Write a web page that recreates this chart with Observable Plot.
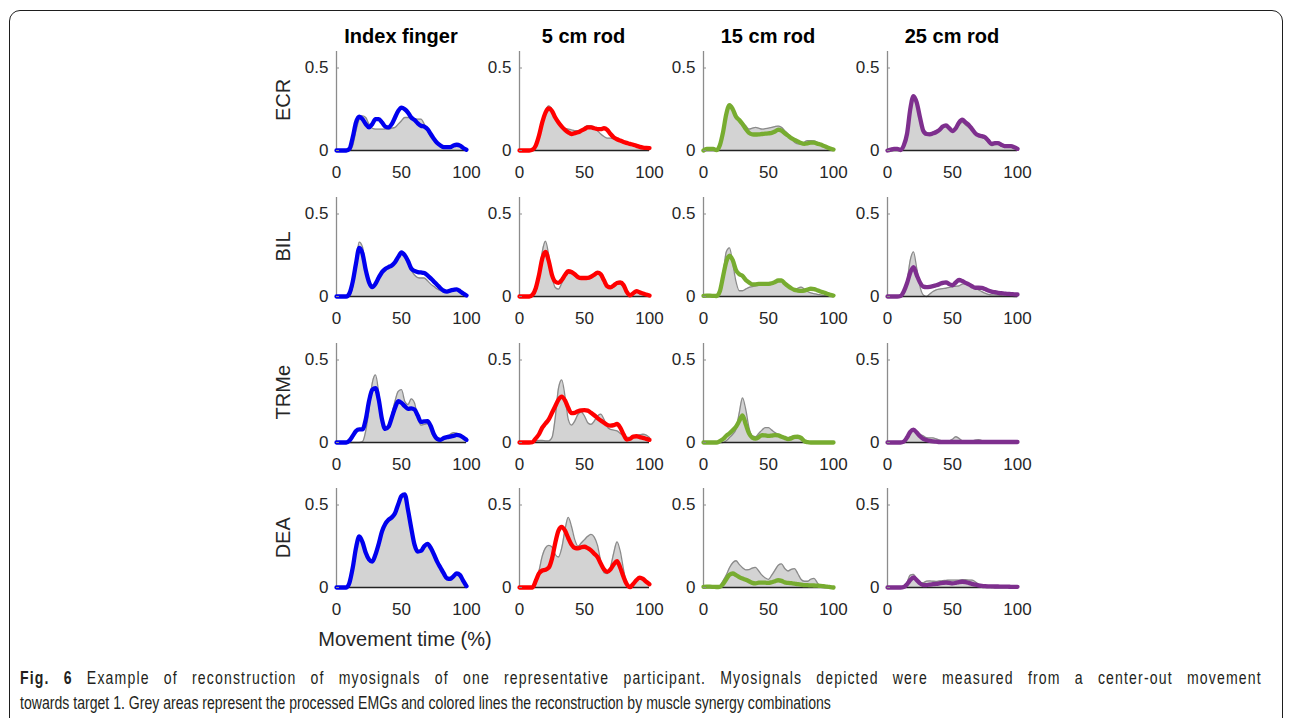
<!DOCTYPE html>
<html>
<head>
<meta charset="utf-8">
<script src="https://cdn.jsdelivr.net/npm/d3@7"></script>
<script src="https://cdn.jsdelivr.net/npm/@observablehq/plot@0.6"></script>
<style>
  html, body { margin: 0; padding: 0; background: #fff; }
  body { width: 1290px; height: 718px; position: relative; overflow: hidden; font-family: "Liberation Sans", Arial, sans-serif; }
  #frame { position: absolute; left: 9px; top: 10px; width: 1274px; height: 760px; border: 1.4px solid #1e1e1e; border-radius: 11px; box-sizing: border-box; }
  #chart { position: absolute; left: 0; top: 0; width: 1290px; height: 718px; }
  #overlay { position: absolute; left: 0; top: 0; }
</style>
</head>
<body>
<div id="frame"></div>
<div id="chart"></div>
<script>
// ---- categories and labels ----
const muscles = ["ECR", "BIL", "TRMe", "DEA"];
const conditions = ["Index finger", "5 cm rod", "15 cm rod", "25 cm rod"];
const lineColors = ["#0000ee", "#ff0000", "#77ac30", "#7e2f8e"];
const xTicks = [0, 50, 100];
const yTicks = [0, 0.5];
const xLabel = "Movement time (%)";
const captionBold = "Fig. 6";
const captionLine1 = " Example of reconstruction of myosignals of one representative participant. Myosignals depicted were measured from a center-out movement";
const captionLine2 = "towards target 1. Grey areas represent the processed EMGs and colored lines the reconstruction by muscle synergy combinations";

// movement time (%) sample points
const time = [0,2.5,5,7.5,10,12.5,15,17.5,20,22.5,25,27.5,30,32.5,35,37.5,40,42.5,45,47.5,50,52.5,55,57.5,60,62.5,65,67.5,70,72.5,75,77.5,80,82.5,85,87.5,90,92.5,95,97.5,100];

// ---- ECR ----
const ECR_index_emg = [0,0,0,0,0,0.03,0.12,0.19,0.21,0.2, 0.16,0.135,0.13,0.13,0.13,0.13,0.13,0.135,0.14,0.16, 0.18,0.2,0.2,0.2,0.19,0.19,0.19,0.16,0.12,0.08, 0.06,0.04,0.03,0.02,0.02,0.02,0.025,0.03,0.03,0.015, 0];
const ECR_index_rec = [0,0,0,0,0.01,0.08,0.17,0.205,0.19,0.16, 0.14,0.16,0.19,0.19,0.17,0.145,0.14,0.16,0.2,0.24, 0.26,0.25,0.23,0.2,0.185,0.165,0.15,0.145,0.13,0.1, 0.07,0.045,0.03,0.02,0.02,0.02,0.03,0.035,0.03,0.015, 0.005];
const ECR_5cm_emg = [0,0,0,0,0,0.02,0.08,0.17,0.24,0.27, 0.25,0.2,0.17,0.15,0.135,0.13,0.125,0.12,0.12,0.125, 0.14,0.15,0.15,0.14,0.12,0.1,0.085,0.075,0.075,0.07, 0.065,0.06,0.05,0.04,0.035,0.03,0.025,0.02,0.015,0.01, 0.005];
const ECR_5cm_rec = [0,0,0,0,0.005,0.03,0.09,0.17,0.23,0.255, 0.24,0.2,0.17,0.145,0.125,0.11,0.1,0.105,0.11,0.12, 0.13,0.14,0.14,0.135,0.13,0.13,0.135,0.125,0.1,0.08, 0.068,0.06,0.052,0.046,0.04,0.035,0.028,0.022,0.018,0.016, 0.015];
const ECR_15cm_emg = [0,0,0,0,0,0.02,0.1,0.21,0.265,0.25, 0.21,0.19,0.17,0.15,0.13,0.135,0.14,0.135,0.13,0.132, 0.135,0.14,0.145,0.148,0.14,0.12,0.1,0.075,0.05,0.04, 0.04,0.05,0.06,0.06,0.058,0.05,0.04,0.03,0.02,0.01, 0.005];
const ECR_15cm_rec = [0,0.01,0.01,0.01,0.002,0.03,0.11,0.22,0.275,0.25, 0.205,0.185,0.16,0.13,0.107,0.098,0.097,0.098,0.1,0.102, 0.104,0.107,0.115,0.127,0.12,0.105,0.09,0.075,0.064,0.055, 0.045,0.04,0.043,0.048,0.048,0.042,0.036,0.028,0.02,0.012, 0.006];
const ECR_25cm_emg = [0,0,0,0,0,0.02,0.09,0.24,0.32,0.29, 0.2,0.13,0.11,0.105,0.11,0.12,0.13,0.145,0.15,0.13, 0.12,0.13,0.155,0.17,0.155,0.14,0.125,0.11,0.09,0.08, 0.07,0.05,0.03,0.035,0.04,0.035,0.03,0.025,0.02,0.015, 0.01];
const ECR_25cm_rec = [0,0.005,0.01,0.01,0.003,0.03,0.1,0.25,0.33,0.29, 0.2,0.12,0.1,0.098,0.104,0.112,0.125,0.145,0.152,0.135, 0.118,0.135,0.17,0.187,0.17,0.155,0.13,0.105,0.092,0.087, 0.08,0.06,0.04,0.045,0.045,0.035,0.027,0.026,0.026,0.02, 0.01];

// ---- BIL ----
const BIL_index_emg = [0,0,0,0,0.005,0.06,0.2,0.33,0.3,0.17, 0.09,0.065,0.08,0.11,0.145,0.168,0.18,0.188,0.2,0.23, 0.26,0.24,0.2,0.16,0.13,0.115,0.112,0.112,0.095,0.075, 0.06,0.045,0.035,0.03,0.032,0.035,0.038,0.04,0.03,0.015, 0];
const BIL_index_rec = [0,0,0,0,0.02,0.09,0.2,0.295,0.26,0.16, 0.087,0.057,0.077,0.115,0.148,0.167,0.178,0.188,0.208,0.24, 0.268,0.25,0.215,0.17,0.155,0.148,0.146,0.142,0.128,0.11, 0.09,0.07,0.05,0.035,0.03,0.036,0.04,0.043,0.032,0.018, 0.006];
const BIL_5cm_emg = [0,0,0,0,0.005,0.03,0.12,0.27,0.335,0.25, 0.12,0.055,0.045,0.08,0.12,0.14,0.138,0.125,0.112,0.11, 0.112,0.118,0.125,0.14,0.15,0.12,0.085,0.055,0.05,0.06, 0.075,0.078,0.055,0.025,0.01,0.02,0.028,0.018,0.01,0.005, 0];
const BIL_5cm_rec = [0,0,0,0,0.01,0.05,0.13,0.23,0.27,0.215, 0.13,0.09,0.082,0.1,0.13,0.153,0.148,0.135,0.118,0.112, 0.112,0.113,0.12,0.132,0.145,0.135,0.098,0.062,0.055,0.067, 0.082,0.085,0.07,0.028,0.007,0.02,0.032,0.025,0.018,0.012, 0.006];
const BIL_15cm_emg = [0,0,0,0,0,0.02,0.12,0.27,0.295,0.2, 0.09,0.035,0.035,0.045,0.055,0.06,0.065,0.068,0.07,0.07, 0.07,0.075,0.085,0.095,0.1,0.08,0.06,0.048,0.042,0.05, 0.057,0.045,0.03,0.022,0.018,0.013,0.01,0.007,0.005,0.002, 0];
const BIL_15cm_rec = [0.004,0.005,0.005,0.004,0.003,0.03,0.12,0.21,0.248,0.22, 0.16,0.135,0.125,0.1,0.085,0.073,0.074,0.076,0.077,0.077, 0.077,0.08,0.088,0.097,0.098,0.08,0.064,0.05,0.04,0.036, 0.034,0.036,0.042,0.047,0.045,0.038,0.03,0.024,0.017,0.01, 0.006];
const BIL_25cm_emg = [0,0,0,0,0,0.02,0.09,0.22,0.27,0.17, 0.06,0.01,0,0.015,0.03,0.04,0.045,0.048,0.05,0.055, 0.06,0.062,0.065,0.075,0.078,0.07,0.058,0.048,0.04,0.03, 0.02,0.013,0.01,0.01,0.008,0.005,0.003,0.002,0.001,0, 0];
const BIL_25cm_rec = [0,0,0,0,0.003,0.03,0.08,0.145,0.178,0.13, 0.085,0.06,0.057,0.059,0.063,0.068,0.075,0.083,0.086,0.075, 0.068,0.085,0.1,0.094,0.083,0.074,0.062,0.053,0.053,0.052, 0.045,0.036,0.03,0.026,0.022,0.02,0.018,0.016,0.015,0.013, 0.012];

// ---- TRMe ----
const TRMe_index_emg = [0,0,0,0,0,0,0,0,0.005,0.07, 0.2,0.36,0.41,0.3,0.14,0.08,0.1,0.17,0.25,0.31, 0.32,0.25,0.23,0.265,0.24,0.15,0.105,0.11,0.115,0.07, 0.03,0.012,0.01,0.02,0.03,0.05,0.06,0.055,0.04,0.025, 0.01];
const TRMe_index_rec = [0,0,0,0,0.012,0.04,0.07,0.08,0.08,0.14, 0.25,0.32,0.33,0.26,0.14,0.082,0.095,0.15,0.21,0.25, 0.24,0.22,0.204,0.207,0.2,0.163,0.125,0.128,0.13,0.1, 0.048,0.022,0.016,0.027,0.033,0.036,0.04,0.046,0.042,0.03, 0.016];
const TRMe_5cm_emg = [0,0,0,0,0,0.01,0.012,0.012,0.01,0.01, 0.03,0.15,0.33,0.38,0.28,0.14,0.105,0.13,0.17,0.185, 0.16,0.12,0.11,0.13,0.16,0.172,0.14,0.095,0.08,0.075, 0.07,0.055,0.04,0.032,0.03,0.035,0.042,0.047,0.05,0.045, 0.03];
const TRMe_5cm_rec = [0,0,0,0,0.002,0.025,0.05,0.09,0.115,0.14, 0.18,0.22,0.26,0.278,0.255,0.21,0.178,0.18,0.19,0.195, 0.196,0.193,0.18,0.165,0.148,0.133,0.12,0.107,0.102,0.105, 0.112,0.09,0.05,0.018,0.022,0.036,0.038,0.033,0.028,0.022, 0.016];
const TRMe_15cm_emg = [0,0,0,0,0,0,0,0.01,0.03,0.05, 0.08,0.18,0.27,0.2,0.09,0.04,0.035,0.055,0.075,0.09, 0.09,0.075,0.06,0.05,0.04,0.033,0.03,0.036,0.04,0.035, 0.025,0.012,0.005,0,0,0,0,0,0,0, 0];
const TRMe_15cm_rec = [0,0,0,0,0,0.008,0.02,0.04,0.055,0.074, 0.095,0.13,0.165,0.11,0.055,0.03,0.024,0.032,0.045,0.043, 0.04,0.042,0.045,0.043,0.035,0.028,0.021,0.025,0.034,0.035, 0.028,0.008,0.002,0,0,0,0,0,0,0, 0];
const TRMe_25cm_emg = [0,0,0,0,0,0,0.03,0.065,0.08,0.065, 0.05,0.04,0.03,0.028,0.028,0.022,0.015,0.01,0.008,0.01, 0.02,0.035,0.025,0.01,0.005,0.005,0.008,0.015,0.018,0.012, 0.005,0,0,0,0,0,0,0,0,0, 0];
const TRMe_25cm_rec = [0,0,0,0,0,0.005,0.03,0.065,0.078,0.06, 0.038,0.022,0.015,0.01,0.007,0.005,0.003,0.003,0.003,0.003, 0.003,0.003,0.003,0.003,0.003,0.003,0.003,0.003,0.003,0.003, 0.003,0.003,0.003,0.003,0.003,0.003,0.003,0.003,0.003,0.003, 0.003];

// ---- DEA ----
const DEA_index_emg = [0,0,0,0,0.025,0.11,0.235,0.31,0.28,0.215, 0.175,0.16,0.2,0.265,0.34,0.385,0.41,0.425,0.45,0.505, 0.555,0.565,0.47,0.36,0.26,0.22,0.225,0.255,0.272,0.245, 0.2,0.155,0.12,0.085,0.055,0.052,0.068,0.085,0.075,0.04, 0.005];
const DEA_index_rec = [0,0,0,0,0.03,0.12,0.24,0.31,0.275,0.21, 0.17,0.157,0.2,0.265,0.34,0.385,0.41,0.425,0.45,0.505, 0.555,0.565,0.47,0.36,0.26,0.218,0.222,0.25,0.265,0.24, 0.2,0.155,0.12,0.085,0.055,0.052,0.068,0.085,0.075,0.04, 0.008];
const DEA_5cm_emg = [0,0,0,0,0,0.02,0.1,0.19,0.24,0.255, 0.245,0.2,0.185,0.24,0.35,0.425,0.37,0.29,0.25,0.27, 0.29,0.31,0.322,0.305,0.255,0.16,0.09,0.085,0.125,0.21, 0.277,0.22,0.11,0.025,0.003,0.015,0.04,0.055,0.047,0.033, 0.02];
const DEA_5cm_rec = [0,0,0,0,0,0.04,0.085,0.103,0.108,0.12, 0.175,0.27,0.345,0.368,0.345,0.3,0.26,0.24,0.237,0.244, 0.247,0.238,0.225,0.205,0.185,0.145,0.11,0.095,0.11,0.14, 0.16,0.12,0.065,0.02,0.002,0.022,0.045,0.06,0.052,0.035, 0.02];
const DEA_15cm_emg = [0,0,0,0,0,0.01,0.04,0.075,0.12,0.15, 0.162,0.14,0.12,0.107,0.108,0.118,0.122,0.1,0.075,0.058, 0.049,0.075,0.105,0.135,0.143,0.115,0.1,0.11,0.115,0.085, 0.05,0.038,0.038,0.05,0.055,0.03,0.005,0,0,0, 0];
const DEA_15cm_rec = [0.004,0.005,0.005,0.004,0.003,0.004,0.02,0.05,0.078,0.085, 0.075,0.063,0.054,0.047,0.038,0.028,0.025,0.029,0.03,0.029, 0.028,0.032,0.038,0.044,0.04,0.031,0.028,0.026,0.024,0.02, 0.018,0.015,0.014,0.013,0.012,0.011,0.01,0.008,0.006,0.003, 0];
const DEA_25cm_emg = [0,0,0,0,0,0,0.03,0.075,0.08,0.05, 0.03,0.03,0.038,0.04,0.038,0.037,0.04,0.042,0.043,0.045, 0.045,0.045,0.045,0.047,0.047,0.045,0.045,0.035,0.02,0.012, 0.008,0.003,0,0,0,0,0,0,0,0, 0];
const DEA_25cm_rec = [0,0,0,0,0,0.003,0.02,0.045,0.061,0.045, 0.025,0.015,0.015,0.018,0.02,0.022,0.025,0.028,0.03,0.028, 0.025,0.028,0.033,0.035,0.033,0.028,0.022,0.017,0.013,0.01, 0.008,0.007,0.007,0.006,0.006,0.005,0.005,0.005,0.004,0.004, 0.004];

// grid lookup [muscle][condition] -> [emg, reconstruction]
const series = {
  ECR:  [[ECR_index_emg, ECR_index_rec], [ECR_5cm_emg, ECR_5cm_rec], [ECR_15cm_emg, ECR_15cm_rec], [ECR_25cm_emg, ECR_25cm_rec]],
  BIL:  [[BIL_index_emg, BIL_index_rec], [BIL_5cm_emg, BIL_5cm_rec], [BIL_15cm_emg, BIL_15cm_rec], [BIL_25cm_emg, BIL_25cm_rec]],
  TRMe: [[TRMe_index_emg, TRMe_index_rec], [TRMe_5cm_emg, TRMe_5cm_rec], [TRMe_15cm_emg, TRMe_15cm_rec], [TRMe_25cm_emg, TRMe_25cm_rec]],
  DEA:  [[DEA_index_emg, DEA_index_rec], [DEA_5cm_emg, DEA_5cm_rec], [DEA_15cm_emg, DEA_15cm_rec], [DEA_25cm_emg, DEA_25cm_rec]]
};

// ---- layout ----
const colX = [336, 518.5, 703, 887];      // left edge of each panel frame
const rowY0 = [149.5, 296, 441.7, 587.3]; // pixel row of value 0
const panelW = 130, panelH = 99;
const ml = 50, mr = 22, mt = 6, mb = 36;
const FONT = "'Liberation Sans', Arial, Helvetica, sans-serif";

const chart = document.getElementById("chart");

muscles.forEach((m, r) => {
  conditions.forEach((c, k) => {
    const [emg, rec] = series[m][k];
    const rows = time.map((t, i) => ({t, emg: emg[i], rec: rec[i]}));
    const svg = Plot.plot({
      width: ml + panelW + mr,
      height: mt + panelH + mb,
      marginLeft: ml, marginRight: mr, marginTop: mt, marginBottom: mb,
      x: {domain: [0, 100]},
      y: {domain: [0, 0.6]},
      style: {fontFamily: FONT, fontSize: "17px", color: "#262626", background: "none", overflow: "visible"},
      marks: [
        Plot.areaY(rows, {x: "t", y: "emg", fill: "#d3d3d3", curve: "monotone-x"}),
        Plot.lineY(rows, {x: "t", y: "emg", stroke: "#8a8a8a", strokeWidth: 1.3, curve: "monotone-x"}),
        Plot.ruleX([0], {stroke: "#8c8c8c", strokeWidth: 1.3}),
        Plot.ruleY([0], {stroke: "#222", strokeWidth: 1.6}),
        Plot.lineY(rows, {x: "t", y: "rec", stroke: lineColors[k], strokeWidth: 4.3, curve: "monotone-x", strokeLinejoin: "round", strokeLinecap: "round"}),
        Plot.axisX({ticks: xTicks, tickSize: 0, tickPadding: 15, tickFormat: d => String(d), label: null}),
        Plot.axisY({ticks: yTicks, tickSize: -3, tickPadding: 11, tickFormat: d => String(d), label: null, stroke: "#8c8c8c"})
      ]
    });
    svg.style.position = "absolute";
    svg.style.left = (colX[k] - ml) + "px";
    svg.style.top = (rowY0[r] - panelH - mt) + "px";
    chart.appendChild(svg);
  });
});

// ---- overlay texts: column titles, row labels, axis label, caption ----
const ov = d3.select("body").append("svg")
  .attr("id", "overlay").attr("width", 1290).attr("height", 718)
  .style("font-family", FONT);

ov.selectAll("text.col").data(conditions).join("text")
  .attr("class", "col")
  .attr("x", (d, k) => colX[k] + panelW / 2)
  .attr("y", 42.5)
  .attr("text-anchor", "middle")
  .attr("font-size", 20).attr("font-weight", "bold").attr("fill", "#000")
  .text(d => d);

ov.selectAll("text.row").data(muscles).join("text")
  .attr("class", "row")
  .attr("transform", (d, r) => `translate(290,${rowY0[r] - panelH / 2}) rotate(-90)`)
  .attr("text-anchor", "middle")
  .attr("font-size", 20).attr("fill", "#262626")
  .text(d => d);

ov.append("text")
  .attr("x", 405).attr("y", 645.5)
  .attr("text-anchor", "middle")
  .attr("font-size", 20).attr("fill", "#262626")
  .text(xLabel);

// caption: condensed face (horizontal scale); the first line is justified
// by sharing the extra width between letter spacing and word spacing
const capG = ov.append("g").style("font-family", FONT).attr("fill", "#231f20").attr("font-size", 18.5);
const cap1 = capG.append("text").attr("x", 0).attr("y", 684);
cap1.append("tspan").attr("font-weight", "bold").text(captionBold);
cap1.append("tspan").text(captionLine1);
const cap2 = capG.append("text").attr("x", 0).attr("y", 709).text(captionLine2);
const w1 = cap1.node().getComputedTextLength();
const w2 = cap2.node().getComputedTextLength();
const sx = 811 / w2;
const full1 = captionBold + captionLine1;
const nSpaces = full1.split(" ").length - 1;
const nChars = full1.length;
const extra = 1242 / sx - w1;
const ls = (extra * 0.5) / nChars;
const ws = (extra * 0.5) / nSpaces;
cap1.style("letter-spacing", ls + "px").style("word-spacing", ws + "px");
const w1b = cap1.node().getComputedTextLength();
if (Math.abs(w1b - 1242 / sx) > 2) {
  cap1.style("word-spacing", (ws + (1242 / sx - w1b) / nSpaces) + "px");
}
capG.attr("transform", `translate(20,0) scale(${sx},1)`);
</script>
</body>
</html>
